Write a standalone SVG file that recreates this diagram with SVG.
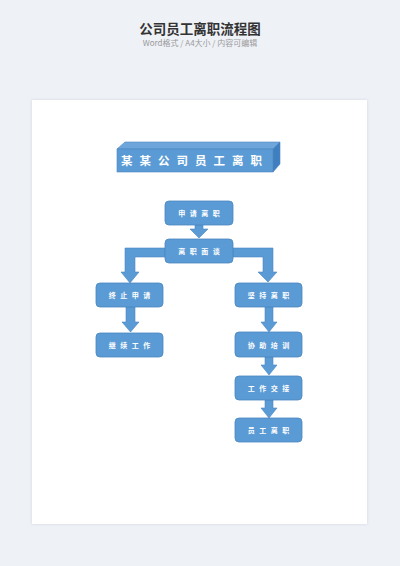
<svg xmlns="http://www.w3.org/2000/svg" width="400" height="566" viewBox="0 0 400 566">
<defs>
<style>
.node rect{fill:#5b9bd5;stroke:#4a86c0;stroke-width:0.8}
.node text{fill:#fff;font-family:"Noto Sans CJK SC","Noto Sans",sans-serif;font-size:7px;font-weight:bold;letter-spacing:4.5px;text-anchor:middle}
.conn path{fill:#5b9bd5;stroke:#4a86c0;stroke-width:0.6}
</style>
<filter id="sh" x="-5%" y="-5%" width="110%" height="110%">
<feDropShadow dx="0" dy="0" stdDeviation="1.5" flood-color="#b8c0cc" flood-opacity="0.6"/>
</filter>
</defs>
<rect x="0" y="0" width="400" height="566" fill="#eef1f6"/>
<text x="200" y="34" text-anchor="middle" font-family="Noto Sans CJK SC,Noto Sans,sans-serif" font-size="13.5" font-weight="bold" fill="#333">公司员工离职流程图</text>
<text x="200" y="46" text-anchor="middle" font-family="Noto Sans CJK SC,Noto Sans,sans-serif" font-size="8" fill="#9a9a9a">Word格式 / A4大小 / 内容可编辑</text>
<rect x="32" y="100" width="335" height="424" fill="#fff" filter="url(#sh)"/>

<g id="title-box">
<polygon points="117,149 125,142 280,142 273,149" fill="#6ea6db" stroke="#4a86c0" stroke-width="0.6"/>
<polygon points="273,149 280,142 280,164 273,172" fill="#3f7fbf" stroke="#4a86c0" stroke-width="0.6"/>
<rect x="117" y="149" width="156" height="23" fill="#5b9bd5" stroke="#4a86c0" stroke-width="0.6"/>
<text x="195" y="165" text-anchor="middle" font-family="Noto Sans CJK SC,Noto Sans,sans-serif" font-size="11.5" font-weight="bold" fill="#fff" letter-spacing="7">某某公司员工离职</text>
</g>

<g class="conn" id="connectors">
<path d="M195,225 H203 V229 H208 L199,238 L190,229 H195 Z"/>
<path d="M165,248 V257 H135 V272 H139 L130,283 L121,272 H125 V248 Z"/>
<path d="M233,248 V257 H263 V272 H258 L268,282 L277,272 H273 V248 Z"/>
<path d="M126,307 H135 V322 H139 L130.5,332 L122,322 H126 Z"/>
<path d="M265,307 H273 V322 H277 L269,332 L261,322 H265 Z"/>
<path d="M265,357 H273 V365 H277 L269,375 L261,365 H265 Z"/>
<path d="M265,400 H273 V408 H277 L269,418 L261,408 H265 Z"/>
</g>

<g class="node" id="n1"><rect x="165" y="201" width="68" height="24" rx="4"/><text x="201.2" y="216">申请离职</text></g>
<g class="node" id="n2"><rect x="165" y="239" width="68" height="24" rx="4"/><text x="201.2" y="254">离职面谈</text></g>
<g class="node" id="n3"><rect x="96" y="283" width="67" height="24" rx="4"/><text x="131.7" y="298">终止申请</text></g>
<g class="node" id="n4"><rect x="96" y="333" width="67" height="24" rx="4"/><text x="131.7" y="348">继续工作</text></g>
<g class="node" id="n5"><rect x="235" y="283" width="67" height="24" rx="4"/><text x="270.7" y="298">坚持离职</text></g>
<g class="node" id="n6"><rect x="235" y="332" width="67" height="25" rx="4"/><text x="270.7" y="347.5">协助培训</text></g>
<g class="node" id="n7"><rect x="235" y="376" width="67" height="24" rx="4"/><text x="270.7" y="391">工作交接</text></g>
<g class="node" id="n8"><rect x="235" y="418" width="67" height="24" rx="4"/><text x="270.7" y="433">员工离职</text></g>
</svg>
